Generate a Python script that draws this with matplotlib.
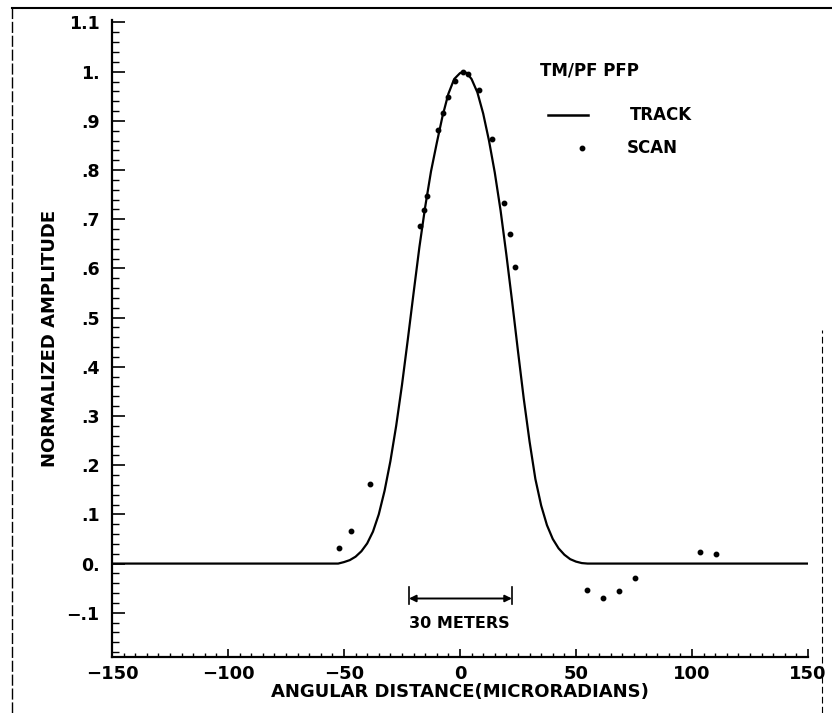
import matplotlib
matplotlib.use("Agg")
import matplotlib.pyplot as plt
from matplotlib.lines import Line2D
from matplotlib.ticker import MultipleLocator

# ---- data ----
# TRACK curve (angular distance in microradians, normalized amplitude)
track_x = [-150, -52.5, -50.0, -47.5, -45.0, -42.5, -40.0, -37.5, -35.0, -32.5,
           -30.0, -27.5, -25.0, -22.5, -20.0, -17.5, -15.0, -12.5, -10.0, -7.5,
           -5.0, -2.5, 0.0, 1.5, 3.0, 5.0, 7.5, 10.0, 12.5, 15.0,
           17.5, 20.0, 22.5, 25.0, 27.5, 30.0, 32.5, 35.0, 37.5, 40.0,
           42.5, 45.0, 47.5, 50.0, 52.5, 55.0, 150]
track_y = [0.0, 0.0, 0.003, 0.007, 0.014, 0.025, 0.041, 0.065, 0.100, 0.148,
           0.208, 0.280, 0.363, 0.455, 0.550, 0.643, 0.725, 0.797, 0.855, 0.910,
           0.955, 0.985, 0.997, 1.0, 0.997, 0.985, 0.958, 0.915, 0.860, 0.795,
           0.718, 0.628, 0.532, 0.432, 0.335, 0.248, 0.172, 0.118, 0.078, 0.050,
           0.031, 0.018, 0.009, 0.004, 0.001, 0.0, 0.0]

# SCAN points
scan_x = [-52.2, -47.0, -38.8, -17.2, -15.5, -14.2, -9.5, -7.3, -5.2, -2.2,
          1.3, 3.4, 8.2, 13.8, 19.0, 21.6, 23.7, 54.7, 61.6, 68.5,
          75.4, 103.4, 110.3]
scan_y = [0.032, 0.067, 0.162, 0.686, 0.718, 0.748, 0.882, 0.917, 0.949, 0.982,
          1.0, 0.996, 0.963, 0.864, 0.734, 0.669, 0.602, -0.053, -0.069, -0.055,
          -0.030, 0.024, 0.020]

y_ticks = [1.1, 1.0, 0.9, 0.8, 0.7, 0.6, 0.5, 0.4, 0.3, 0.2, 0.1, 0.0, -0.1]
y_labels = ["1.1", "1.", ".9", ".8", ".7", ".6", ".5", ".4", ".3", ".2", ".1", "0.", "\u2212.1"]
x_ticks = [-150, -100, -50, 0, 50, 100, 150]
x_labels = ["\u2212150", "\u2212100", "\u221250", "0", "50", "100", "150"]

# scale bar for "30 METERS"
bar_x = [-22.0, 22.4]
bar_y = -0.071

plt.rcParams["font.family"] = "DejaVu Sans"
plt.rcParams["font.weight"] = "bold"

fig = plt.figure(figsize=(8.32, 7.13), dpi=100)
ax = fig.add_axes([0.1346, 0.0785, 0.8365, 0.8934])

ax.plot(track_x, track_y, color="black", lw=1.6, solid_joinstyle="round")
ax.plot(scan_x, scan_y, ls="none", marker="o", ms=3.2, color="black")

ax.set_xlim(-150, 150)
ax.set_ylim(-0.19, 1.105)

for s in ["top", "right"]:
    ax.spines[s].set_visible(False)
for s in ["left", "bottom"]:
    ax.spines[s].set_linewidth(1.6)

ax.set_xticks(x_ticks)
ax.set_xticklabels(x_labels, fontsize=13, fontweight="bold")
ax.set_yticks(y_ticks)
ax.set_yticklabels(y_labels, fontsize=12.5, fontweight="bold")
ax.xaxis.set_minor_locator(MultipleLocator(5))
ax.yaxis.set_minor_locator(MultipleLocator(0.02))
ax.tick_params(axis="x", which="major", direction="in", length=6, width=1.2, pad=6)
ax.tick_params(axis="x", which="minor", direction="in", length=3, width=1.0)
ax.tick_params(axis="y", which="major", direction="in", length=9, width=1.2, pad=9)
ax.tick_params(axis="y", which="minor", direction="in", length=5, width=1.0)

ax.set_xlabel("ANGULAR DISTANCE(MICRORADIANS)", fontsize=13, fontweight="bold", labelpad=0)
ax.set_ylabel("NORMALIZED AMPLITUDE", fontsize=13, fontweight="bold", labelpad=5)

# 30 meters scale bar
ax.annotate("", xy=(bar_x[0], bar_y), xytext=(bar_x[1], bar_y),
            arrowprops=dict(arrowstyle="<|-|>", color="black", lw=1.4,
                            mutation_scale=10, shrinkA=0, shrinkB=0))
for bx in bar_x:
    ax.plot([bx, bx], [bar_y + 0.024, bar_y - 0.012], color="black", lw=1.2)
ax.text(bar_x[0], bar_y - 0.051, "30 METERS", fontsize=11.5, fontweight="bold",
        ha="left", va="center")

# legend drawn by hand
ax.text(0.615, 0.921, "TM/PF PFP", transform=ax.transAxes, fontsize=12,
        fontweight="bold", ha="left", va="center")
ax.add_line(Line2D([0.626, 0.684], [0.851, 0.851], transform=ax.transAxes,
                   color="black", lw=1.8))
ax.text(0.744, 0.851, "TRACK", transform=ax.transAxes, fontsize=12,
        fontweight="bold", ha="left", va="center")
ax.plot([0.675], [0.799], transform=ax.transAxes, marker="o", ms=3.2, color="black")
ax.text(0.740, 0.799, "SCAN", transform=ax.transAxes, fontsize=12,
        fontweight="bold", ha="left", va="center")

# page frame of the scanned figure
fig.add_artist(Line2D([0.0144, 1.0], [0.989, 0.989], color="black", lw=1.5))
fig.add_artist(Line2D([0.0144, 0.0144], [0.0, 0.989], color="black", lw=1.0,
                      ls=(0, (8, 2))))
fig.add_artist(Line2D([0.988, 0.988], [0.0, 0.537], color="black", lw=0.8,
                      ls=(0, (6, 3))))

fig.savefig("out.png", dpi=100)
